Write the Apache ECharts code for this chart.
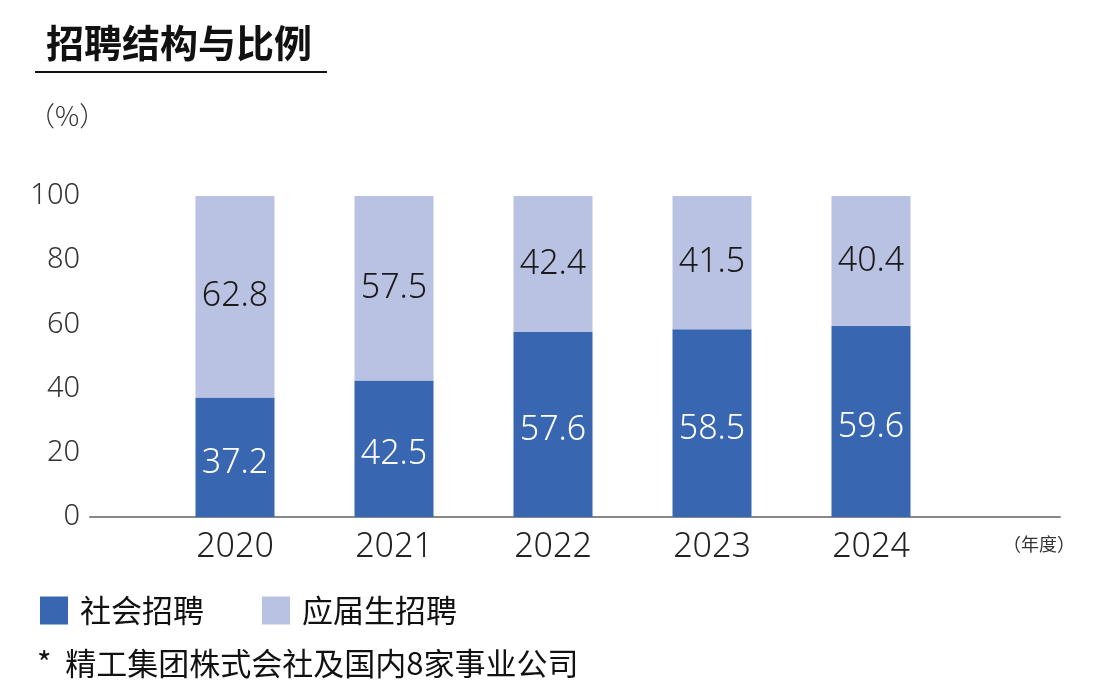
<!DOCTYPE html>
<html><head><meta charset="utf-8">
<script src="https://cdn.jsdelivr.net/npm/echarts@6/dist/echarts.min.js"></script>
<style>html,body{margin:0;padding:0;background:#fff}#c{width:1120px;height:700px}</style>
</head><body><div id="c"></div>
<script>
const years = ['2020', '2021', '2022', '2023', '2024'];
const social = [37.2, 42.5, 57.6, 58.5, 59.6];
const graduate = [62.8, 57.5, 42.4, 41.5, 40.4];
const seriesNames = ['社会招聘', '应届生招聘'];
const yTicks = [0, 20, 40, 60, 80, 100];

const FONT = '"Noto Sans CJK SC", "Noto Sans", sans-serif';
const NUM = '"Noto Sans", "Noto Sans CJK SC", sans-serif';
const chart = echarts.init(document.getElementById('c'));
const gTop = 196, gH = 321;
chart.setOption({
  animation: false,
  textStyle: { fontFamily: FONT },
  title: {
    text: '招聘结构与比例', left: 41, top: 19,
    textStyle: { fontSize: 38, fontWeight: 'bold', color: '#111', fontFamily: FONT }
  },
  graphic: [
    { type: 'line', shape: { x1: 35, y1: 72, x2: 327, y2: 72 }, style: { stroke: '#111', lineWidth: 2 } },
    { type: 'text', left: 28, top: 102, style: { text: '（%）', font: '300 27px ' + FONT, fill: '#333' } },
    { type: 'text', left: 1003, top: 535, style: { text: '（年度）', font: '18px ' + FONT, fill: '#333' } },
    { type: 'text', left: 37, top: 648, style: { text: '*  精工集团株式会社及国内8家事业公司', font: '31px ' + FONT, fill: '#111' } }
  ],
  legend: {
    left: 35, top: 590, itemWidth: 28, itemHeight: 28, itemGap: 58,
    icon: 'rect', data: seriesNames,
    textStyle: { fontSize: 31, color: '#111', fontFamily: FONT, padding: [0, 0, 0, 7] }
  },
  grid: [
    { left: 155.5, width: 795, top: gTop, height: gH },
    { left: 90, width: 970, top: gTop, height: gH }
  ],
  xAxis: [
    { type: 'category', gridIndex: 0, data: years,
      axisLine: { show: false }, axisTick: { show: false },
      axisLabel: { fontSize: 34, fontWeight: 300, color: '#222', margin: 13, fontFamily: NUM } },
    { type: 'category', gridIndex: 1, data: [],
      axisLine: { show: true, lineStyle: { color: '#888', width: 2 } },
      axisTick: { show: false }, axisLabel: { show: false } }
  ],
  yAxis: [
    { type: 'value', gridIndex: 0, min: 0, max: 100, interval: 20, show: false, splitLine: { show: false } },
    { type: 'value', gridIndex: 1, min: 0, max: 100, interval: 20,
      axisLine: { show: false }, axisTick: { show: false }, splitLine: { show: false },
      axisLabel: { fontSize: 29, fontWeight: 300, color: '#333', margin: 10, fontFamily: NUM,
        customValues: yTicks } }
  ],
  series: [
    { name: seriesNames[0], type: 'bar', stack: 'a', data: social, barWidth: 79,
      xAxisIndex: 0, yAxisIndex: 0,
      itemStyle: { color: '#3966b0' },
      label: { show: true, position: 'inside', offset: [0, 6], color: '#fff', fontSize: 34, fontWeight: 300, fontFamily: NUM } },
    { name: seriesNames[1], type: 'bar', stack: 'a', data: graduate, barWidth: 79,
      xAxisIndex: 0, yAxisIndex: 0,
      itemStyle: { color: '#b9c2e2' },
      label: { show: true, position: 'inside', color: '#1a1a1a', fontSize: 34, fontWeight: 300, fontFamily: NUM } }
  ]
});
</script></body></html>
